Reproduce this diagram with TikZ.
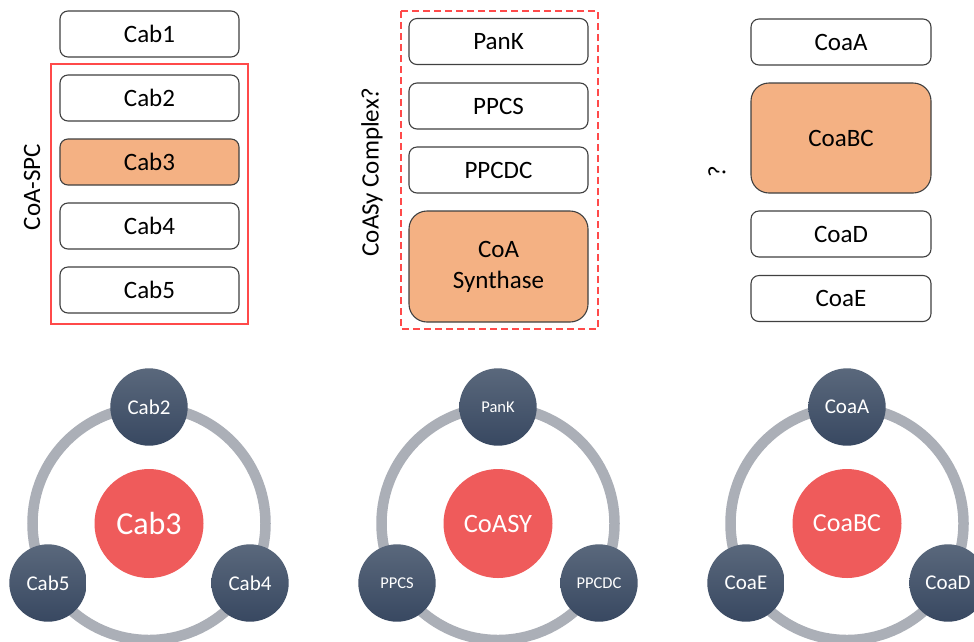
\documentclass[tikz,border=0pt]{standalone}
\usepackage{fontspec}
\setmainfont{Carlito}
\definecolor{boxline}{HTML}{404040}
\definecolor{boxfill}{HTML}{F4B183}
\definecolor{frame}{HTML}{FF4A4A}
\definecolor{ringgray}{HTML}{ABAFB7}
\definecolor{sattop}{HTML}{5A687C}
\definecolor{satbot}{HTML}{384861}
\definecolor{corered}{HTML}{EF5B5B}
\begin{document}
\begin{tikzpicture}[x=1pt,y=-1pt,
  box/.style={draw=boxline, line width=1.1pt, rounded corners=8pt, fill=white,
    minimum width=179pt, minimum height=46pt, inner sep=0pt, align=center,
    font=\fontsize{25}{31}\selectfont},
  hl/.style={fill=boxfill},
  bigbox/.style={box, hl, rounded corners=18pt, minimum height=110pt},
  frm/.style={draw=frame, line width=1.3pt},
  lbl/.style={rotate=90, font=\fontsize{25}{30}\selectfont, inner sep=0pt},
  ring/.style={draw=ringgray, line width=10.5pt},
  sat/.style={circle, minimum size=77.4pt, inner sep=0pt, top color=sattop, bottom color=satbot, text=white},
  core/.style={circle, minimum size=109pt, inner sep=0pt, fill=corered, text=white}
]
\useasboundingbox (0,0) rectangle (974,641);
\clip (0,0) rectangle (974,641);
\fill[white] (0,0) rectangle (974,641);

% ---- left column
\draw[frm] (51,64) rectangle (248,324);
\node[box] (cab1) at (149.5,34) {Cab1};
\node[box] (cab2) at (149.5,98) {Cab2};
\node[box,hl] (cab3) at (149.5,162) {Cab3};
\node[box] (cab4) at (149.5,226) {Cab4};
\node[box] (cab5) at (149.5,290) {Cab5};
\node[lbl] (lspc) at (32,187) {CoA-SPC};

% ---- middle column
\draw[frm, dash pattern=on 7pt off 4pt] (401,11) rectangle (598,329);
\node[box] (pank) at (498.5,41.5) {PanK};
\node[box] (ppcs) at (498.5,106) {PPCS};
\node[box] (ppcdc) at (498.5,170) {PPCDC};
\node[bigbox, minimum height=111pt] (coasyn) at (498.5,266.5) {CoA\\Synthase};
\node[lbl] (lcoasy) at (372,172) {CoASy Complex?};

% ---- right column
\node[box, minimum width=180pt] (coaa) at (841,42) {CoaA};
\node[bigbox, minimum width=180pt] (coabc) at (841,138) {CoaBC};
\node[box, minimum width=180pt] (coad) at (841,234) {CoaD};
\node[box, minimum width=180pt] (coae) at (841,298.5) {CoaE};
\node[lbl] (lq) at (717,172) {?};

% ---- bottom ring diagrams
\draw[ring] (149,523.5) circle (116.5);
\node[core, font=\fontsize{32}{36}\selectfont] (c1) at (149,523.5) {Cab3};
\node[sat, font=\fontsize{21}{24}\selectfont] (s12) at (149,407) {Cab2};
\node[sat, font=\fontsize{21}{24}\selectfont] (s15) at (48,583) {Cab5};
\node[sat, font=\fontsize{21}{24}\selectfont] (s14) at (250,583) {Cab4};

\draw[ring] (498,523.5) circle (116.5);
\node[core, font=\fontsize{26.5}{30}\selectfont] (c2) at (498,523.5) {CoASY};
\node[sat, font=\fontsize{16.5}{20}\selectfont] (s2a) at (498,407) {PanK};
\node[sat, font=\fontsize{16.5}{20}\selectfont] (s2b) at (397,583) {PPCS};
\node[sat, font=\fontsize{16.5}{20}\selectfont] (s2c) at (599,583) {PPCDC};

\draw[ring] (847,523.5) circle (116.5);
\node[core, font=\fontsize{26}{30}\selectfont] (c3) at (847,523.5) {CoaBC};
\node[sat, font=\fontsize{21}{24}\selectfont] (s3a) at (847,407) {CoaA};
\node[sat, font=\fontsize{21}{24}\selectfont] (s3e) at (746,583) {CoaE};
\node[sat, font=\fontsize{21}{24}\selectfont] (s3d) at (948,583) {CoaD};
\end{tikzpicture}
\end{document}
